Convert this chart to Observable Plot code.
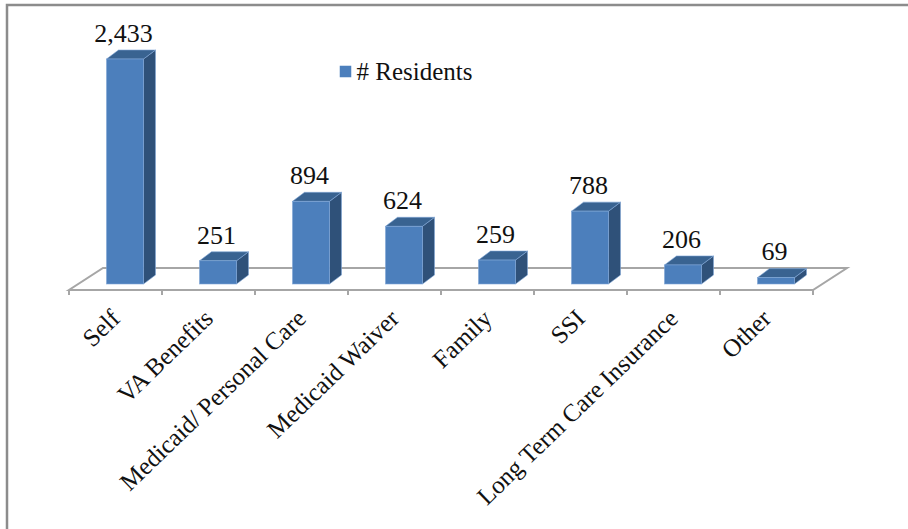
<!DOCTYPE html>
<html>
<head>
<meta charset="utf-8">
<script src="https://cdn.jsdelivr.net/npm/d3@7"></script>
<script src="https://cdn.jsdelivr.net/npm/@observablehq/plot@0.6"></script>
<style>
  html, body { margin: 0; padding: 0; background: #fff; }
  svg { display: block; }
</style>
</head>
<body>
<div id="chart"></div>
<script>
// Residents by payment source
const categories = ["Self", "VA Benefits", "Medicaid/ Personal Care", "Medicaid Waiver", "Family", "SSI", "Long Term Care Insurance", "Other"];
const residents = [2433, 251, 894, 624, 259, 788, 206, 69];
const seriesName = "# Residents";

const rows = categories.map((category, i) => ({category, value: residents[i]}));

const FONT = "'Liberation Serif', 'Times New Roman', serif";
const COLORS = {front: "#4c7fbc", side: "#2f5179", top: "#396391", edge: "#7fa6d6", floor: "#a6a6a6", frame: "#8c8c8c"};
const BAR = {insetLeft: 37.5, insetRight: 18.5};
const DEPTH = {dx: 12, dy: -9};
const FLOOR = {front: 6, back: -16, skew: 34};

// Outer border: only the top and left edges are visible.
function borderMark(index, scales, values, {width, height}) {
  return d3.create("svg:path")
    .attr("fill", "none")
    .attr("stroke", COLORS.frame)
    .attr("stroke-width", 2.5)
    .attr("d", `M7,${height}V5H${width}`)
    .node();
}

// Floor plane drawn beneath the columns, with a tick on each band boundary.
function floorMark(index, {x, y}) {
  const step = x(categories[1]) - x(categories[0]);
  const left = x(categories[0]);
  const right = left + step * categories.length;
  const base = y(0);
  const g = d3.create("svg:g").attr("fill", "none").attr("stroke", COLORS.floor).attr("stroke-width", 2);
  g.append("path").attr("d", `M${left},${base + FLOOR.front}L${right},${base + FLOOR.front}L${right + FLOOR.skew},${base + FLOOR.back}L${left + FLOOR.skew},${base + FLOOR.back}Z`);
  for (let i = 0; i <= categories.length; ++i) {
    g.append("line").attr("x1", left + i * step).attr("x2", left + i * step).attr("y1", base + FLOOR.front).attr("y2", base + FLOOR.front + 5);
  }
  return g.node();
}

// Side and top faces that give each column its depth.
function depthMark(index, {x, y}) {
  const step = x(categories[1]) - x(categories[0]);
  const g = d3.create("svg:g").attr("stroke", COLORS.edge).attr("stroke-width", 0.6).attr("stroke-linejoin", "round");
  rows.forEach(d => {
    const l = x(d.category) + BAR.insetLeft;
    const r = x(d.category) + step - BAR.insetRight;
    const t = y(d.value);
    const b = y(0);
    g.append("path").attr("fill", COLORS.side)
      .attr("d", `M${r},${t}L${r + DEPTH.dx},${t + DEPTH.dy}L${r + DEPTH.dx},${b + DEPTH.dy}L${r},${b}Z`);
    g.append("path").attr("fill", COLORS.top)
      .attr("d", `M${l},${t}L${l + DEPTH.dx},${t + DEPTH.dy}L${r + DEPTH.dx},${t + DEPTH.dy}L${r},${t}Z`);
  });
  return g.node();
}

const plot = Plot.plot({
  width: 908,
  height: 529,
  marginTop: 59,
  marginBottom: 245,
  marginLeft: 68,
  marginRight: 95,
  style: {fontFamily: FONT, background: "#fff", color: "#111"},
  x: {type: "band", domain: categories, padding: 0, label: null},
  y: {domain: [0, 2433], axis: null, label: null},
  marks: [
    borderMark,
    floorMark,
    depthMark,
    Plot.barY(rows, {x: "category", y: "value", fill: COLORS.front, stroke: COLORS.edge, strokeWidth: 0.6, ...BAR}),
    Plot.text(rows, {x: "category", y: "value", text: d => d3.format(",")(d.value), dx: 7.5, dy: -26, fontSize: 26, fill: "#111"}),
    Plot.axisX({anchor: "bottom", tickSize: 0, tickPadding: 30, tickRotate: -44, fontSize: 25, fontVariant: "normal", label: null, fill: "#111"}),
    // Series key
    Plot.dot([seriesName], {frameAnchor: "top-left", dx: 277, dy: 12, symbol: "square", r: 6.5, fill: COLORS.front}),
    Plot.text([seriesName], {frameAnchor: "top-left", dx: 288, dy: 12, lineAnchor: "middle", text: d => d, textAnchor: "start", fontSize: 25, fill: "#111"})
  ]
});
document.getElementById("chart").append(plot);
</script>
</body>
</html>
